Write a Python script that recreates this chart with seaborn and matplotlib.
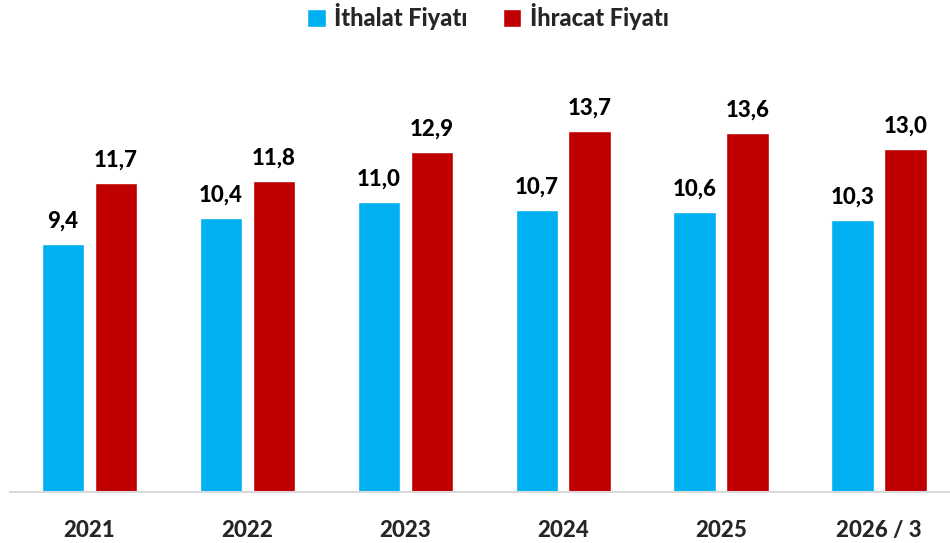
import numpy as np
import pandas as pd
from matplotlib import pyplot as plt
import seaborn as sns
import warnings

warnings.filterwarnings("ignore")

# Chart data
years = ['2021', '2022', '2023', '2024', '2025', '2026 / 3']
ithalat = [9.4, 10.4, 11.0, 10.7, 10.6, 10.3]
ihracat = [11.7, 11.8, 12.9, 13.7, 13.6, 13.0]
series_names = ['İthalat Fiyatı', 'İhracat Fiyatı']
colors = ['#00B0F0', '#C00000']


def main():
    df = pd.DataFrame({
        'Yıl': years * 2,
        'Değer': ithalat + ihracat,
        'Seri': [series_names[0]] * len(years) + [series_names[1]] * len(years),
    })

    sns.set_style('white')
    plt.rcParams['font.family'] = ['Lato', 'DejaVu Sans']

    fig = plt.figure(figsize=(9.5, 5.43), dpi=100)
    ax = fig.add_axes([10 / 950, 51 / 543, 940 / 950, 1 - 51 / 543 - 70 / 543])

    sns.barplot(data=df, x='Yıl', y='Değer', hue='Seri', palette=colors,
                width=0.67, gap=0.2, ax=ax, saturation=1, legend=True)

    # value labels above bars, comma decimal
    for cont in ax.containers:
        vals = [b.get_height() for b in cont]
        ax.bar_label(cont, labels=[f"{v:.1f}".replace('.', ',') for v in vals],
                     padding=9, fontsize=16, fontweight='black', color='black')

    ax.set_ylim(0, 16)
    ax.set_xlim(-0.503, 5.45)
    ax.set_yticks([])
    ax.set_xlabel('')
    ax.set_ylabel('')
    for side in ['top', 'left', 'right']:
        ax.spines[side].set_visible(False)
    ax.spines['bottom'].set_color('#D9D9D9')
    ax.spines['bottom'].set_linewidth(1.5)
    ax.tick_params(axis='x', length=0, pad=20, labelsize=16)
    for lbl in ax.get_xticklabels():
        lbl.set_fontweight('black')

    handles, labels = ax.get_legend_handles_labels()
    ax.get_legend().remove()
    fig.legend(handles, labels, loc='center', bbox_to_anchor=(488 / 950, 1 - 17 / 543),
               ncol=2, frameon=False, handlelength=0.78, handleheight=0.78,
               handletextpad=0.35, columnspacing=1.5,
               prop={'family': ['Lato', 'DejaVu Sans'], 'weight': 'black', 'size': 17})

    plt.savefig('out.png', dpi=100)


if __name__ == "__main__":
    main()
